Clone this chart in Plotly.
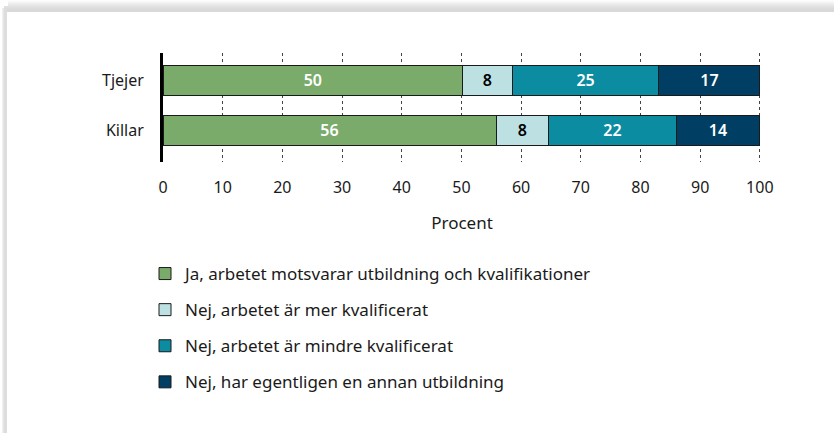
import plotly.graph_objects as go

# ---- data ----
categories = ["Killar", "Tjejer"]
series_names = [
    "Ja, arbetet motsvarar utbildning och kvalifikationer",
    "Nej, arbetet är mer kvalificerat",
    "Nej, arbetet är mindre kvalificerat",
    "Nej, har egentligen en annan utbildning",
]
# values per series, order follows categories (Killar, Tjejer)
ja_match = [55.8, 50.2]
nej_mer = [8.8, 8.3]
nej_mindre = [21.4, 24.6]
nej_annan = [14.0, 16.9]
# printed labels
ja_match_lbl = ["56", "50"]
nej_mer_lbl = ["8", "8"]
nej_mindre_lbl = ["22", "25"]
nej_annan_lbl = ["14", "17"]
x_ticks = [0, 10, 20, 30, 40, 50, 60, 70, 80, 90, 100]
x_title = "Procent"

colors = ["#7aab6a", "#bde1e3", "#0c8ca1", "#003f63"]
text_colors = ["white", "black", "white", "white"]

W, H = 834, 433
ML, MR, MT, MB = 163, 73, 53, 271
PW, PH = W - ML - MR, H - MT - MB

def px(x):
    return (x - ML) / PW

def py(y):
    return (H - MB - y) / PH

FONT = "Noto Sans"

fig = go.Figure()
vals = [ja_match, nej_mer, nej_mindre, nej_annan]
lbls = [ja_match_lbl, nej_mer_lbl, nej_mindre_lbl, nej_annan_lbl]
for i, name in enumerate(series_names):
    fig.add_trace(go.Bar(
        y=categories, x=vals[i], name=name, orientation="h",
        marker=dict(color=colors[i], line=dict(color="#1a1a1a", width=1)),
        text=lbls[i], texttemplate="%{text}", textposition="inside",
        insidetextanchor="middle",
        textfont=dict(family=FONT, size=16, color=text_colors[i], weight=600),
        width=0.6, legendgroup=f"g{i}", hoverinfo="skip",
    ))

# card shadow (top gradient + left strip)
shapes = []
top_cols = ["#fdfdfd", "#f9f9f9", "#f4f4f4", "#efefef", "#eaeaea", "#e6e6e6",
            "#e2e2e2", "#dfdfdf", "#dcdcdc", "#dadada", "#d9d9d9", "#d9d9d9"]
for k, c in enumerate(top_cols):
    shapes.append(dict(type="rect", xref="paper", yref="paper", layer="below",
                       x0=px(8 if k < 6 else 4), x1=px(W + 5), y0=py(k + 1), y1=py(k),
                       fillcolor=c, line=dict(width=0)))
left_cols = ["#f0f0f0", "#e6e6e6", "#dedede", "#dcdcdc", "#dedede"]
for k, c in enumerate(left_cols):
    shapes.append(dict(type="rect", xref="paper", yref="paper", layer="below",
                       x0=px(2 + k), x1=px(3 + k), y0=py(H + 5), y1=py(8),
                       fillcolor=c, line=dict(width=0)))

fig.update_layout(
    width=W, height=H,
    margin=dict(l=ML, r=MR, t=MT, b=MB, autoexpand=False),
    paper_bgcolor="white", plot_bgcolor="white",
    barmode="stack", bargap=0.4,
    font=dict(family=FONT, size=16, color="#1a1a1a"),
    showlegend=True,
    legend=dict(x=px(145), y=py(256), xanchor="left", yanchor="top",
                traceorder="grouped", tracegroupgap=11,
                font=dict(family=FONT, size=17, color="#1a1a1a"),
                bgcolor="rgba(0,0,0,0)"),
    xaxis=dict(range=[0, 100.2], tickvals=x_ticks, ticktext=[str(t) for t in x_ticks],
               showgrid=True, gridcolor="#444", griddash="dot", gridwidth=1,
               zeroline=False, showline=False, ticks="", ticklabelstandoff=14,
               tickfont=dict(size=16),
               title=dict(text=x_title, standoff=20, font=dict(size=17)),
               fixedrange=True),
    yaxis=dict(range=[-0.64, 1.54], showgrid=False, zeroline=False,
               showline=True, linecolor="black", linewidth=3,
               ticks="", ticklabelstandoff=13, tickfont=dict(size=16),
               fixedrange=True),
    shapes=shapes,
)

fig.write_html("out.html", config={"displayModeBar": False},
               post_script="document.body.style.margin='0';document.body.style.padding='0';")
